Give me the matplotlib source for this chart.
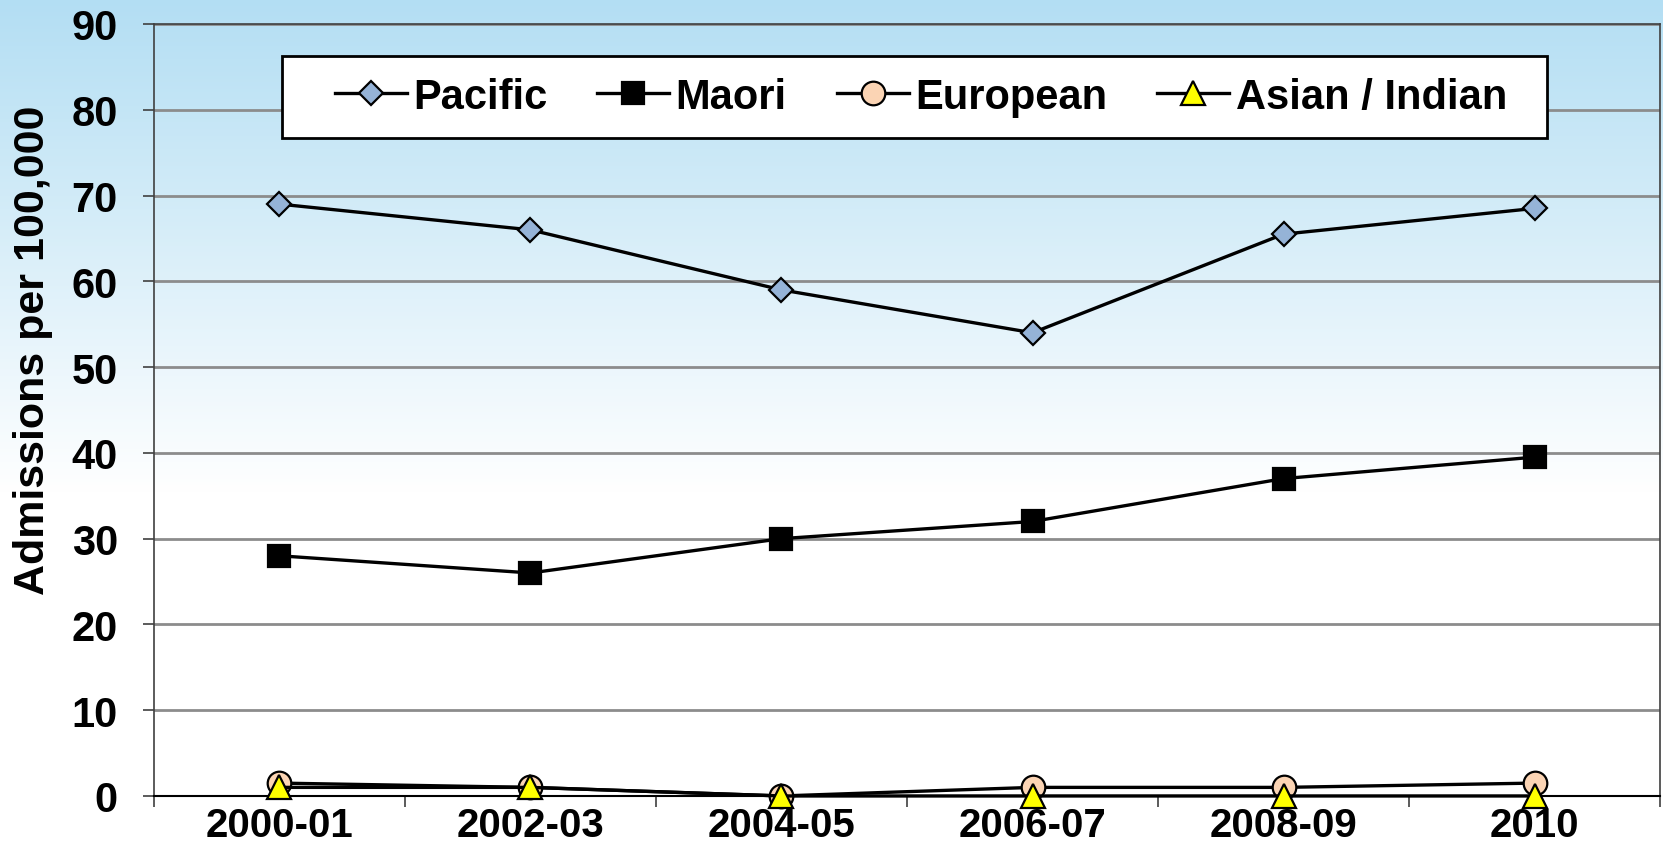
import numpy as np
import matplotlib.pyplot as plt
from matplotlib.colors import LinearSegmentedColormap
from matplotlib.patches import Rectangle

# Data
periods = ["2000-01", "2002-03", "2004-05", "2006-07", "2008-09", "2010"]
pacific = [69, 66, 59, 54, 65.5, 68.5]
maori = [28, 26, 30, 32, 37, 39.5]
european = [1.5, 1, 0, 1, 1, 1.5]
asian_indian = [1, 1, 0, 0, 0, 0]
y_ticks = [0, 10, 20, 30, 40, 50, 60, 70, 80, 90]

plt.rcParams["font.family"] = ["Liberation Sans", "DejaVu Sans"]
plt.rcParams["font.weight"] = "bold"

fig = plt.figure(figsize=(16.63, 8.53), dpi=100)

# Light blue to white gradient behind everything
bg = fig.add_axes([0, 0, 1, 1], zorder=-10)
grad_cmap = LinearSegmentedColormap.from_list(
    "bg", [(0.0, "#b3def3"), (0.58, "#ffffff"), (1.0, "#ffffff")]
)
bg.imshow(np.linspace(0, 1, 256).reshape(-1, 1), aspect="auto",
          cmap=grad_cmap, extent=[0, 1, 1, 0])
bg.set_axis_off()

ax = fig.add_axes([0.0926, 0.0657, 0.9056, 0.905])
ax.set_facecolor("none")

x = np.arange(len(periods))
line_kw = dict(color="black", linewidth=2.4, markeredgecolor="black",
               markeredgewidth=1.6, clip_on=False)

ax.plot(x, pacific, marker="D", markersize=12.5, markerfacecolor="#95b3d7",
        label="Pacific", zorder=5, **line_kw)
ax.plot(x, maori, marker="s", markersize=15.5, markerfacecolor="black",
        label="Maori", zorder=5, **line_kw)
ax.plot(x, european, marker="o", markersize=17, markerfacecolor="#fbd4b4",
        label="European", zorder=5, **line_kw)
ax.plot(x, asian_indian, marker="^", markersize=17, markerfacecolor="#ffff00",
        label="Asian / Indian", zorder=6, **line_kw)

ax.set_xlim(-0.5, len(periods) - 0.5)
ax.set_ylim(0, 90)
ax.set_yticks(y_ticks)
ax.set_xticks(x)
ax.set_xticklabels(periods)
ax.set_xticks(np.arange(-0.5, len(periods), 1.0), minor=True)

ax.tick_params(axis="x", which="major", length=0, pad=7, labelsize=29)
ax.tick_params(axis="x", which="minor", length=8, width=1.2, direction="out",
               color="#404040")
ax.tick_params(axis="y", length=8, width=1.2, direction="out", pad=18,
               labelsize=30, color="#404040")

ax.grid(axis="y", color="#8c8c8c", linewidth=2)
ax.set_axisbelow(True)

for side in ["left", "right", "top"]:
    ax.spines[side].set_color("#404040")
    ax.spines[side].set_linewidth(1.2)
ax.spines["bottom"].set_color("black")
ax.spines["bottom"].set_linewidth(1.5)

ax.set_ylabel("Admissions per 100,000", fontsize=31, fontweight="bold")
ax.yaxis.set_label_coords(-0.067, 0.579)

# Legend: plain white box with entries laid out inside it
box = Rectangle((0.085, 0.852), 0.84, 0.1065, transform=ax.transAxes,
                facecolor="white", edgecolor="black", linewidth=2, zorder=9,
                clip_on=False)
ax.add_patch(box)
leg = ax.legend(loc="center left", bbox_to_anchor=(0.120, 0.906), ncol=4,
                fontsize=30, frameon=False, handlelength=1.73,
                handletextpad=0.15, columnspacing=1.2, borderpad=0,
                borderaxespad=0)
leg.set_zorder(10)

fig.savefig("out.png", dpi=100)
